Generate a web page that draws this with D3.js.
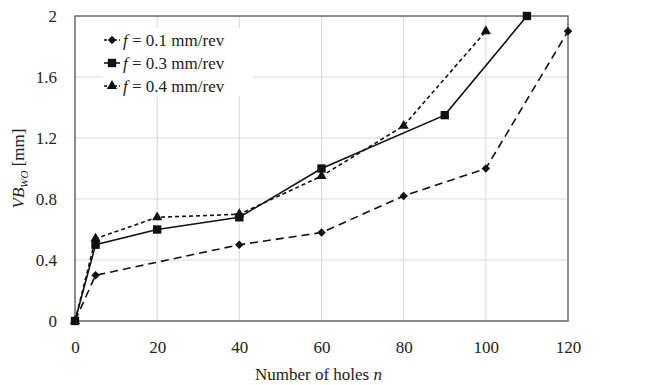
<!DOCTYPE html>
<html>
<head>
<meta charset="utf-8">
<script src="https://cdn.jsdelivr.net/npm/d3@7"></script>
<style>
  body { margin: 0; background: #fff; }
  svg, svg text { font-family: "Liberation Serif", "Times New Roman", serif; }
</style>
</head>
<body>
<div id="chart"></div>
<script>
// data
const holes01 = [0, 5, 40, 60, 80, 100, 120];
const wear01  = [0, 0.30, 0.50, 0.58, 0.82, 1.00, 1.90];
const holes03 = [0, 5, 20, 40, 60, 90, 110];
const wear03  = [0, 0.50, 0.60, 0.68, 1.00, 1.35, 2.00];
const holes04 = [0, 5, 20, 40, 60, 80, 100];
const wear04  = [0, 0.54, 0.68, 0.70, 0.95, 1.28, 1.90];
const xTicks = [0, 20, 40, 60, 80, 100, 120];
const yTicks = [0, 0.4, 0.8, 1.2, 1.6, 2];
const seriesNames = ["0.1", "0.3", "0.4"];

const width = 670, height = 385;
const margin = { top: 16, right: 102, bottom: 64, left: 75 };
const serif = '"Liberation Serif", "Times New Roman", serif';

const svg = d3.select('#chart').append('svg')
  .attr('width', width).attr('height', height)
  .attr('font-family', serif);

const x = d3.scaleLinear().domain([0, 120]).range([margin.left, width - margin.right]);
const y = d3.scaleLinear().domain([0, 2]).range([height - margin.bottom, margin.top]);

// grid
svg.append('g').selectAll('line').data(xTicks).enter().append('line')
  .attr('x1', d => x(d)).attr('x2', d => x(d))
  .attr('y1', y(0)).attr('y2', y(2))
  .attr('stroke', '#d9d9d9').attr('stroke-width', 1);
svg.append('g').selectAll('line').data(yTicks).enter().append('line')
  .attr('x1', x(0)).attr('x2', x(120))
  .attr('y1', d => y(d)).attr('y2', d => y(d))
  .attr('stroke', '#d9d9d9').attr('stroke-width', 1);

// frame
svg.append('rect')
  .attr('x', x(0)).attr('y', y(2))
  .attr('width', x(120) - x(0)).attr('height', y(0) - y(2))
  .attr('fill', 'none').attr('stroke', '#6e6e6e').attr('stroke-width', 1.5);

// axes
const xAxis = svg.append('g')
  .attr('transform', `translate(0,${y(0)})`)
  .call(d3.axisBottom(x).tickValues(xTicks).tickSize(0).tickPadding(20).tickFormat(d3.format('d')))
  .attr('font-family', serif).attr('font-size', 17);
xAxis.select('.domain').remove();
xAxis.selectAll('text').attr('fill', '#222');

const yAxis = svg.append('g')
  .attr('transform', `translate(${x(0)},0)`)
  .call(d3.axisLeft(y).tickValues(yTicks).tickSize(0).tickPadding(18).tickFormat(d => d))
  .attr('font-family', serif).attr('font-size', 17);
yAxis.select('.domain').remove();
yAxis.selectAll('text').attr('fill', '#222');

// axis titles
const xt = svg.append('text')
  .attr('x', (x(0) + x(120)) / 2 - 3).attr('y', 380)
  .attr('text-anchor', 'middle').attr('font-size', '17px').attr('fill', '#222');
xt.append('tspan').text('Number of holes ');
xt.append('tspan').attr('font-style', 'italic').text('n');

const yt = svg.append('text')
  .attr('transform', `translate(24,${(y(0) + y(2)) / 2}) rotate(-90)`)
  .attr('text-anchor', 'middle').attr('font-size', '17px').attr('fill', '#222');
yt.append('tspan').attr('font-style', 'italic').text('VB');
yt.append('tspan').attr('font-style', 'italic').attr('font-size', '11px').attr('dy', 4).text('WO');
yt.append('tspan').attr('dy', -4).text(' [mm]');

const series = [
  { xs: holes01, ys: wear01, dash: '8,5', sym: d3.symbolSquare, size: 36, rot: 45 },
  { xs: holes03, ys: wear03, dash: null, sym: d3.symbolSquare, size: 70, rot: 0 },
  { xs: holes04, ys: wear04, dash: '4,3', sym: d3.symbolTriangle, size: 45, rot: 0 }
];

const line = d3.line().x(d => x(d[0])).y(d => y(d[1]));

series.forEach(s => {
  const pts = s.xs.map((v, i) => [v, s.ys[i]]);
  svg.append('path').datum(pts)
    .attr('d', line).attr('fill', 'none')
    .attr('stroke', '#111').attr('stroke-width', 1.6)
    .attr('stroke-dasharray', s.dash);
  svg.append('g').selectAll('path').data(pts).enter().append('path')
    .attr('d', d3.symbol().type(s.sym).size(s.size))
    .attr('transform', d => `translate(${x(d[0])},${y(d[1])}) rotate(${s.rot})`)
    .attr('fill', '#111');
});

// legend
const lg = svg.append('g');
lg.append('rect').attr('x', 103).attr('y', 28).attr('width', 150).attr('height', 68).attr('fill', '#fff');
series.forEach((s, i) => {
  const cy = 40 + i * 23;
  lg.append('line').attr('x1', 104).attr('x2', 120).attr('y1', cy).attr('y2', cy)
    .attr('stroke', '#111').attr('stroke-width', 1.6).attr('stroke-dasharray', s.dash ? '3,2' : null);
  lg.append('path').attr('d', d3.symbol().type(s.sym).size(s.size))
    .attr('transform', `translate(112,${cy}) rotate(${s.rot})`).attr('fill', '#111');
  const t = lg.append('text').attr('x', 123).attr('y', cy + 6)
    .attr('font-size', '17px').attr('fill', '#222');
  t.append('tspan').attr('font-style', 'italic').text('f');
  t.append('tspan').text(' = ' + seriesNames[i] + ' mm/rev');
});
</script>
</body>
</html>
